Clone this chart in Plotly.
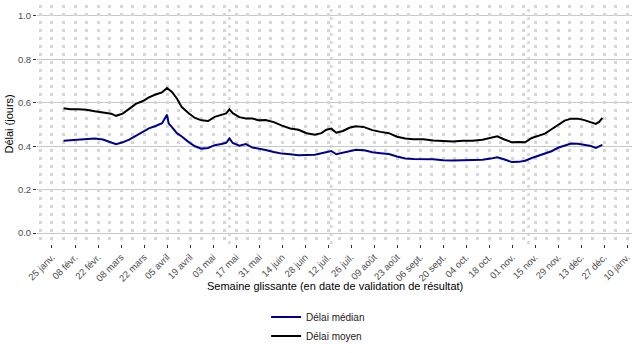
import plotly.graph_objects as go
import pandas as pd

dates = ["2021-02-01", "2021-02-05", "2021-02-10", "2021-02-15", "2021-02-20", "2021-02-25",
         "2021-03-02", "2021-03-05", "2021-03-09", "2021-03-13", "2021-03-17", "2021-03-21",
         "2021-03-25", "2021-03-29", "2021-04-02", "2021-04-05", "2021-04-06", "2021-04-08",
         "2021-04-11", "2021-04-14", "2021-04-18", "2021-04-22", "2021-04-26", "2021-04-30",
         "2021-05-04", "2021-05-08", "2021-05-11", "2021-05-13", "2021-05-15", "2021-05-19",
         "2021-05-23", "2021-05-27", "2021-05-31", "2021-06-04", "2021-06-09", "2021-06-14",
         "2021-06-19", "2021-06-24", "2021-06-29", "2021-07-04", "2021-07-08", "2021-07-11",
         "2021-07-14", "2021-07-17", "2021-07-21", "2021-07-25", "2021-07-29", "2021-08-03",
         "2021-08-08", "2021-08-13", "2021-08-18", "2021-08-23", "2021-08-28", "2021-09-02",
         "2021-09-08", "2021-09-14", "2021-09-20", "2021-09-26", "2021-10-02", "2021-10-08",
         "2021-10-14", "2021-10-19", "2021-10-23", "2021-10-27", "2021-11-01", "2021-11-05",
         "2021-11-09", "2021-11-13", "2021-11-17", "2021-11-21", "2021-11-25", "2021-11-29",
         "2021-12-03", "2021-12-07", "2021-12-11", "2021-12-15", "2021-12-19", "2021-12-22",
         "2021-12-24", "2021-12-26"]

delai_moyen = [0.575, 0.570, 0.570, 0.568, 0.561, 0.556,
               0.550, 0.540, 0.550, 0.572, 0.595, 0.607,
               0.625, 0.638, 0.648, 0.668, 0.662, 0.650,
               0.620, 0.580, 0.553, 0.530, 0.519, 0.516,
               0.535, 0.545, 0.551, 0.570, 0.552, 0.534,
               0.528, 0.528, 0.519, 0.521, 0.511, 0.495,
               0.482, 0.476, 0.460, 0.453, 0.460, 0.476,
               0.481, 0.462, 0.470, 0.485, 0.492, 0.488,
               0.474, 0.466, 0.460, 0.444, 0.436, 0.432,
               0.432, 0.426, 0.423, 0.422, 0.425, 0.425,
               0.430, 0.438, 0.446, 0.432, 0.418, 0.420,
               0.418, 0.438, 0.447, 0.458, 0.478, 0.500,
               0.518, 0.527, 0.527, 0.520, 0.510, 0.503,
               0.512, 0.530]

delai_median = [0.425, 0.427, 0.429, 0.431, 0.435, 0.431,
                0.416, 0.409, 0.418, 0.430, 0.448, 0.465,
                0.482, 0.493, 0.506, 0.545, 0.505, 0.488,
                0.460, 0.445, 0.420, 0.400, 0.389, 0.392,
                0.405, 0.410, 0.416, 0.436, 0.415, 0.402,
                0.410, 0.394, 0.390, 0.383, 0.373, 0.366,
                0.363, 0.358, 0.360, 0.361, 0.368, 0.374,
                0.378, 0.363, 0.370, 0.378, 0.384, 0.381,
                0.372, 0.368, 0.364, 0.353, 0.344, 0.341,
                0.341, 0.340, 0.336, 0.334, 0.336, 0.336,
                0.338, 0.343, 0.349, 0.340, 0.327, 0.328,
                0.333, 0.346, 0.356, 0.364, 0.377, 0.393,
                0.404, 0.412, 0.411, 0.407, 0.401, 0.392,
                0.401, 0.406]

tick_dates = ["2021-01-25", "2021-02-08", "2021-02-22", "2021-03-08", "2021-03-22", "2021-04-05",
              "2021-04-19", "2021-05-03", "2021-05-17", "2021-05-31", "2021-06-14", "2021-06-28",
              "2021-07-12", "2021-07-26", "2021-08-09", "2021-08-23", "2021-09-06", "2021-09-20",
              "2021-10-04", "2021-10-18", "2021-11-01", "2021-11-15", "2021-11-29", "2021-12-13",
              "2021-12-27", "2022-01-10"]
tick_labels = ["25 janv.", "08 févr.", "22 févr.", "08 mars", "22 mars", "05 avril",
               "19 avril", "03 mai", "17 mai", "31 mai", "14 juin", "28 juin",
               "12 juil.", "26 juil.", "09 août", "23 août", "06 sept.", "20 sept.",
               "04 oct.", "18 oct.", "01 nov.", "15 nov.", "29 nov.", "13 déc.",
               "27 déc.", "10 janv."]

holidays = ["2021-05-13", "2021-07-14", "2021-11-11"]

y_ticks = [0.0, 0.2, 0.4, 0.6, 0.8, 1.0]

# weekly grid positions (Mondays)
week_grid = [d.strftime("%Y-%m-%d") for d in pd.date_range("2021-01-18", "2022-01-10", freq="7D")]

FONT = "Liberation Sans, Arial, sans-serif"
GRID_DASH_COLOR = "#d6d6d6"
X_RANGE = ["2021-01-15 21:00", "2022-01-13"]

fig = go.Figure()
fig.add_trace(go.Scatter(x=[week_grid[0]], y=[None], xaxis="x2", showlegend=False,
                         hoverinfo="skip", mode="lines"))
fig.add_trace(go.Scatter(x=dates, y=delai_median, mode="lines", name="Délai médian",
                         line=dict(color="#00008B", width=2)))
fig.add_trace(go.Scatter(x=dates, y=delai_moyen, mode="lines", name="Délai moyen",
                         line=dict(color="#000000", width=2)))

for h in holidays:
    fig.add_shape(type="line", xref="x", yref="paper", x0=h, x1=h, y0=0, y1=1,
                  line=dict(color=GRID_DASH_COLOR, width=2.5, dash="3px,5px"), layer="below")

fig.update_layout(
    width=635, height=353,
    margin=dict(l=37, r=3, t=5, b=109, autoexpand=False),
    paper_bgcolor="white", plot_bgcolor="white",
    font=dict(family=FONT, size=11, color="#000000"),
    showlegend=True,
    legend=dict(orientation="v", x=0.385, xanchor="left", y=-0.245, yanchor="top",
                font=dict(size=10, color="#1a1a1a"), tracegroupgap=0,
                bgcolor="rgba(0,0,0,0)"),
    xaxis=dict(
        type="date",
        range=X_RANGE,
        tickmode="array", tickvals=tick_dates, ticktext=tick_labels,
        tickangle=-45, tickfont=dict(size=9.5, color="#4d4d4d"),
        ticks="outside", ticklen=3, tickcolor="#333333", tickwidth=1,
        showgrid=False, zeroline=False, showline=False,
    ),
    xaxis2=dict(
        type="date", overlaying="x", matches="x", range=X_RANGE,
        tickmode="array", tickvals=week_grid, showticklabels=False, ticks="",
        showgrid=True, gridcolor=GRID_DASH_COLOR, gridwidth=2.5, griddash="3px,5px",
        zeroline=False, showline=False, side="bottom",
    ),
    yaxis=dict(
        range=[-0.05, 1.05],
        tickmode="array", tickvals=y_ticks, tickformat=".1f",
        tickfont=dict(size=9.5, color="#4d4d4d"),
        ticks="outside", ticklen=3, tickcolor="#333333", tickwidth=1,
        showgrid=True, gridcolor="#c8c8c8", gridwidth=1.2,
        zeroline=False, showline=False,
    ),
    annotations=[
        dict(text="Semaine glissante (en date de validation de résultat)", xref="paper", yref="paper",
             x=0.5, y=-0.176, xanchor="center", yanchor="middle", showarrow=False,
             font=dict(size=11, color="#000000")),
        dict(text="Délai (jours)", xref="paper", yref="paper", x=-0.0487, y=0.5,
             xanchor="center", yanchor="middle", textangle=-90, showarrow=False,
             font=dict(size=11, color="#000000")),
    ],
)

fig.write_html("out.html")
